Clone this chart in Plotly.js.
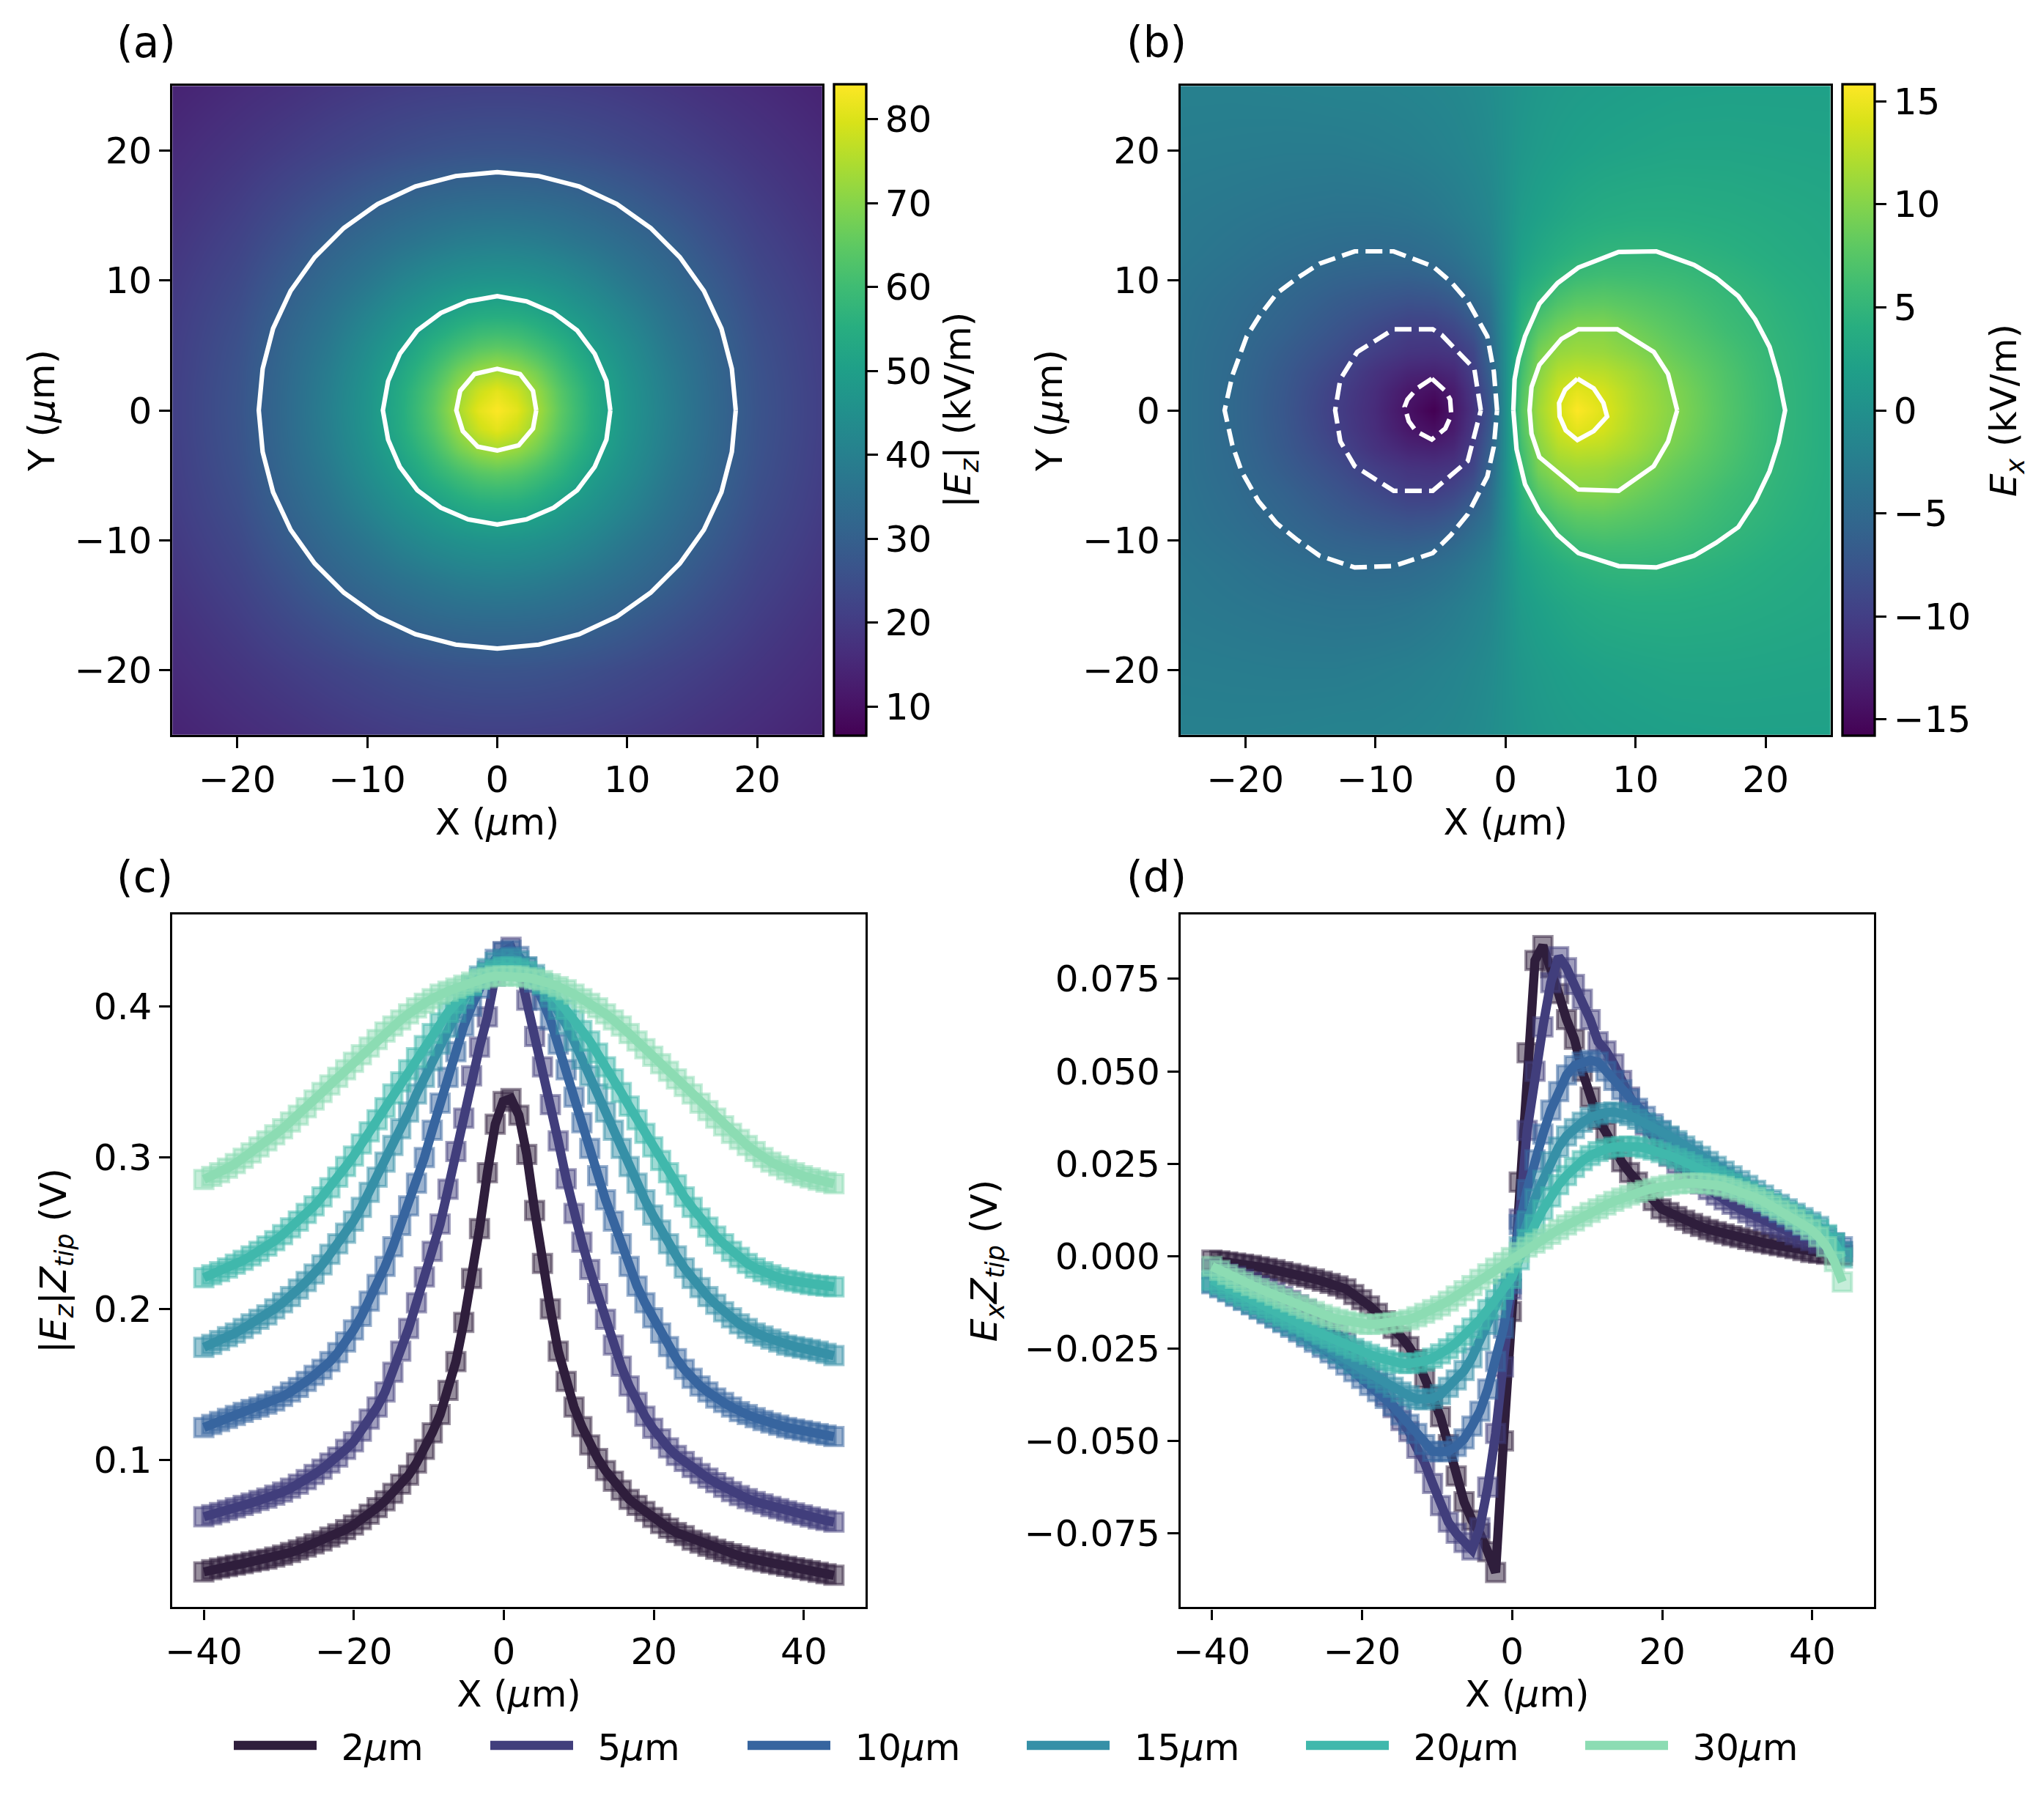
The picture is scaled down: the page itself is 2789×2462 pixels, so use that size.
<!DOCTYPE html>
<html>
<head>
<meta charset="utf-8">
<script src="https://cdn.plot.ly/plotly-3.0.1.min.js"></script>
<style>
html,body{margin:0;padding:0;background:#fff}
.legendlines path{stroke-width:12.5px !important}
</style>
</head>
<body>
<div id="myDiv"></div>
<script>
// panel (a), |Ez| map in kV/m on a coarse grid
var gridA = [-25,-20,-16,-13,-10,-7.5,-5,-3,-1.5,0,1.5,3,5,7.5,10,13,16,20,25];
var ezMap = [
  [14,15.8,17.2,18.4,19.4,20.1,20.6,20.8,21,21,21,20.8,20.6,20.1,19.4,18.4,17.2,15.8,14],
  [15.8,18.3,20.5,22.1,23.6,24.8,25.7,26.2,26.4,26.5,26.4,26.2,25.7,24.8,23.6,22.1,20.5,18.3,15.8],
  [17.2,20.5,23.9,26.5,29.2,31.2,32.7,33.4,33.7,33.8,33.7,33.4,32.7,31.2,29.2,26.5,23.9,20.5,17.2],
  [18.4,22.1,26.5,30.4,33.4,35.8,37.7,39,39.5,39.8,39.5,39,37.7,35.8,33.4,30.4,26.5,22.1,18.4],
  [19.4,23.6,29.2,33.4,37.3,40.9,43.9,45.5,46.3,46.5,46.3,45.5,43.9,40.9,37.3,33.4,29.2,23.6,19.4],
  [20.1,24.8,31.2,35.8,40.9,45.2,49,52.2,53.7,54,53.7,52.2,49,45.2,40.9,35.8,31.2,24.8,20.1],
  [20.6,25.7,32.7,37.7,43.9,49,55.8,60.2,63,64,63,60.2,55.8,49,43.9,37.7,32.7,25.7,20.6],
  [20.8,26.2,33.4,39,45.5,52.2,60.2,67.8,72,74,72,67.8,60.2,52.2,45.5,39,33.4,26.2,20.8],
  [21,26.4,33.7,39.5,46.3,53.7,63,72,78,81,78,72,63,53.7,46.3,39.5,33.7,26.4,21],
  [21,26.5,33.8,39.8,46.5,54,64,74,81,84,81,74,64,54,46.5,39.8,33.8,26.5,21],
  [21,26.4,33.7,39.5,46.3,53.7,63,72,78,81,78,72,63,53.7,46.3,39.5,33.7,26.4,21],
  [20.8,26.2,33.4,39,45.5,52.2,60.2,67.8,72,74,72,67.8,60.2,52.2,45.5,39,33.4,26.2,20.8],
  [20.6,25.7,32.7,37.7,43.9,49,55.8,60.2,63,64,63,60.2,55.8,49,43.9,37.7,32.7,25.7,20.6],
  [20.1,24.8,31.2,35.8,40.9,45.2,49,52.2,53.7,54,53.7,52.2,49,45.2,40.9,35.8,31.2,24.8,20.1],
  [19.4,23.6,29.2,33.4,37.3,40.9,43.9,45.5,46.3,46.5,46.3,45.5,43.9,40.9,37.3,33.4,29.2,23.6,19.4],
  [18.4,22.1,26.5,30.4,33.4,35.8,37.7,39,39.5,39.8,39.5,39,37.7,35.8,33.4,30.4,26.5,22.1,18.4],
  [17.2,20.5,23.9,26.5,29.2,31.2,32.7,33.4,33.7,33.8,33.7,33.4,32.7,31.2,29.2,26.5,23.9,20.5,17.2],
  [15.8,18.3,20.5,22.1,23.6,24.8,25.7,26.2,26.4,26.5,26.4,26.2,25.7,24.8,23.6,22.1,20.5,18.3,15.8],
  [14,15.8,17.2,18.4,19.4,20.1,20.6,20.8,21,21,21,20.8,20.6,20.1,19.4,18.4,17.2,15.8,14]
];

// panel (b), Ex map in kV/m
var gridBx = [-25,-21,-17,-13,-10,-7.5,-5.5,-4,-2.5,-1.2,0,1.2,2.5,4,5.5,7.5,10,13,17,21,25];
var gridBy = [-25,-20,-15,-12,-10.5,-8.5,-6.2,-4.5,-3,-1.5,0,1.5,3,4.5,6.2,8.5,10.5,12,15,20,25];
var exMap = [
  [-2.1,-2.1,-2,-1.8,-1.8,-1.6,-1.4,-1.2,-0.9,-0.5,0,0.5,0.9,1.2,1.4,1.6,1.8,2,2.1,2.1,2.1],
  [-2.5,-2.6,-2.7,-2.7,-2.5,-2.3,-2,-1.7,-1.3,-0.8,0,0.8,1.3,1.7,2,2.3,2.5,2.7,2.7,2.6,2.5],
  [-3,-3.3,-3.6,-3.8,-3.8,-3.6,-3.2,-2.7,-2.1,-1.4,0,1.4,2.1,2.7,3.2,3.6,3.8,3.8,3.6,3.3,3],
  [-3.2,-3.7,-4.3,-4.8,-5,-4.9,-4.5,-3.9,-3,-2,0,2,3,3.9,4.5,4.9,5,4.8,4.3,3.7,3.2],
  [-3.4,-4,-4.8,-5.6,-5.9,-6,-5.6,-4.9,-3.8,-2.5,0,2.5,3.8,4.9,5.6,6,5.9,5.6,4.8,4,3.4],
  [-3.6,-4.4,-5.4,-6.6,-7.3,-7.8,-7.6,-6.8,-5.2,-3.6,0,3.6,5.2,6.8,7.6,7.8,7.3,6.6,5.4,4.4,3.6],
  [-3.7,-4.7,-6,-7.6,-8.9,-10,-10,-9.2,-7.6,-4.6,0,4.6,7.6,9.2,10,10,8.9,7.6,6,4.7,3.7],
  [-3.8,-4.9,-6.6,-8.4,-10,-11,-11.2,-10.8,-9.2,-5.6,0,5.6,9.2,10.8,11.2,11,10,8.4,6.6,4.9,3.8],
  [-3.8,-5,-7,-9.2,-11.2,-12.5,-12.8,-12.2,-10,-6.2,0,6.2,10,12.2,12.8,12.5,11.2,9.2,7,5,3.8],
  [-3.8,-5.1,-7.2,-9.8,-11.8,-13.8,-14.6,-13.4,-10.8,-7,0,7,10.8,13.4,14.6,13.8,11.8,9.8,7.2,5.1,3.8],
  [-3.8,-5.1,-7.3,-10,-12,-14.3,-15.8,-13.8,-11.3,-7.5,0,7.5,11.3,13.8,15.8,14.3,12,10,7.3,5.1,3.8],
  [-3.8,-5.1,-7.2,-9.8,-11.8,-13.8,-14.6,-13.4,-10.8,-7,0,7,10.8,13.4,14.6,13.8,11.8,9.8,7.2,5.1,3.8],
  [-3.8,-5,-7,-9.2,-11.2,-12.5,-12.8,-12.2,-10,-6.2,0,6.2,10,12.2,12.8,12.5,11.2,9.2,7,5,3.8],
  [-3.8,-4.9,-6.6,-8.4,-10,-11,-11.2,-10.8,-9.2,-5.6,0,5.6,9.2,10.8,11.2,11,10,8.4,6.6,4.9,3.8],
  [-3.7,-4.7,-6,-7.6,-8.9,-10,-10,-9.2,-7.6,-4.6,0,4.6,7.6,9.2,10,10,8.9,7.6,6,4.7,3.7],
  [-3.6,-4.4,-5.4,-6.6,-7.3,-7.8,-7.6,-6.8,-5.2,-3.6,0,3.6,5.2,6.8,7.6,7.8,7.3,6.6,5.4,4.4,3.6],
  [-3.4,-4,-4.8,-5.6,-5.9,-6,-5.6,-4.9,-3.8,-2.5,0,2.5,3.8,4.9,5.6,6,5.9,5.6,4.8,4,3.4],
  [-3.2,-3.7,-4.3,-4.8,-5,-4.9,-4.5,-3.9,-3,-2,0,2,3,3.9,4.5,4.9,5,4.8,4.3,3.7,3.2],
  [-3,-3.3,-3.6,-3.8,-3.8,-3.6,-3.2,-2.7,-2.1,-1.4,0,1.4,2.1,2.7,3.2,3.6,3.8,3.8,3.6,3.3,3],
  [-2.5,-2.6,-2.7,-2.7,-2.5,-2.3,-2,-1.7,-1.3,-0.8,0,0.8,1.3,1.7,2,2.3,2.5,2.7,2.7,2.6,2.5],
  [-2.1,-2.1,-2,-1.8,-1.8,-1.6,-1.4,-1.2,-0.9,-0.5,0,0.5,0.9,1.2,1.4,1.6,1.8,2,2.1,2.1,2.1]
];

// contour polylines
var ezOuterX = [18.35,18.05,17.25,15.9,14.05,11.8,9.2,6.3,3.2,0,-3.2,-6.3,-9.2,-11.8,-14.05,-15.9,-17.25,-18.05,-18.35,-18.05,-17.25,-15.9,-14.05,-11.8,-9.2,-6.3,-3.2,0,3.2,6.3,9.2,11.8,14.05,15.9,17.25,18.05,18.35];
var ezOuterY = [0,3.2,6.3,9.2,11.8,14.05,15.9,17.25,18.05,18.35,18.05,17.25,15.9,14.05,11.8,9.2,6.3,3.2,0,-3.2,-6.3,-9.2,-11.8,-14.05,-15.9,-17.25,-18.05,-18.35,-18.05,-17.25,-15.9,-14.05,-11.8,-9.2,-6.3,-3.2,0];
var ezMidX = [8.7,8.4,7.5,6.15,4.35,2.25,0,-2.25,-4.35,-6.15,-7.5,-8.4,-8.8,-8.4,-7.5,-6.15,-4.35,-2.25,0,2.25,4.35,6.15,7.5,8.4,8.7];
var ezMidY = [0,2.25,4.35,6.15,7.5,8.4,8.8,8.4,7.5,6.15,4.35,2.25,0,-2.25,-4.35,-6.15,-7.5,-8.4,-8.8,-8.4,-7.5,-6.15,-4.35,-2.25,0];
var ezInX = [3,2.75,1.75,0,-1.75,-2.85,-3.15,-2.65,-1.5,0,1.65,2.75,3];
var ezInY = [0,1.5,2.8,3.2,2.8,1.5,0,-1.6,-2.8,-3.1,-2.7,-1.4,0];

var exPosOuterX = [0.6,0.7,1,1.5,2.6,4,5.6,8.7,11.6,14.5,16.2,17.9,19.2,20.3,21,21.5,21,20.3,19.2,17.9,16.2,14.5,11.6,8.7,5.6,4,2.6,1.5,0.85,0.6];
var exPosOuterY = [0,2.4,4,5.7,8.2,9.8,11,12.2,12.25,11.2,10.2,8.8,7,4.9,2.5,0,-2.5,-4.7,-7,-9,-10.2,-11.2,-12.1,-12,-11,-9.6,-7.8,-5.7,-3,0];
var exPosMidX = [13.2,12.5,11.4,8.6,5.6,4.3,2.6,2,1.85,2,2.6,5.6,8.7,11.4,12.5,13.2];
var exPosMidY = [0,2.8,4.5,6.25,6.25,5.5,3.5,1.8,0,-1.8,-3.6,-6.1,-6.2,-4.3,-2.4,0];
var exPosInX = [5.53,6.78,7.53,7.81,6.78,5.53,4.63,4.16,4.12,4.59,5.53];
var exPosInY = [2.44,1.69,0.56,-0.47,-1.6,-2.29,-1.54,-0.47,0.56,1.59,2.44];
var exNegOuterX = [-0.65,-0.9,-1.4,-2.9,-4.2,-5.6,-8.6,-11.6,-14.3,-16,-17.6,-18.9,-19.9,-21,-21.6,-21,-20.3,-19,-17.6,-16,-14.3,-11.6,-8.6,-5.6,-4.2,-2.9,-1.4,-0.9,-0.65];
var exNegOuterY = [0,3,5.7,8.4,9.9,11.1,12.25,12.25,11.3,10.2,9,7.3,5.7,2.7,0,-2.7,-4.7,-7,-8.7,-10,-11.2,-12.1,-12,-11,-9.6,-8,-5.1,-2.8,0];
var exNegMidX = [-1.9,-2.4,-4.9,-5.6,-8.6,-11.4,-12.7,-13.1,-12.7,-11.6,-8.6,-5.6,-2.9,-1.9];
var exNegMidY = [0,3.2,5.8,6.25,6.25,4.5,2.4,0,-2.4,-4.3,-6.2,-6.2,-3.9,0];
var exNegInX = [-5.67,-4.63,-4.26,-4.17,-4.63,-5.67,-6.88,-7.44,-7.76,-7.54,-6.8,-5.67];
var exNegInY = [2.44,1.5,0.84,-0.37,-1.4,-2.25,-1.6,-0.84,0.28,0.84,1.69,2.44];

// line scans, panels (c) and (d)
var scanX = [-40,-38.95,-37.9,-36.85,-35.8,-34.75,-33.7,-32.65,-31.6,-30.55,-29.5,-28.45,-27.4,-26.35,-25.3,-24.25,-23.2,-22.15,-21.1,-20.05,-19,-17.95,-16.9,-15.85,-14.8,-13.75,-12.7,-11.65,-10.6,-9.55,-8.5,-7.45,-6.4,-5.35,-4.3,-3.25,-2.2,-1.15,-0.1,0.95,2,3.05,4.1,5.15,6.2,7.25,8.3,9.35,10.4,11.45,12.5,13.55,14.6,15.65,16.7,17.75,18.8,19.85,20.9,21.95,23,24.05,25.1,26.15,27.2,28.25,29.3,30.35,31.4,32.45,33.5,34.55,35.6,36.65,37.7,38.75,39.8,40.85,41.9,42.95,44];

// leading spaces give the gap between legend line and text
var heights = ['\u00a0\u20052<i>μ</i>m','\u00a0\u20055<i>μ</i>m','\u00a0\u200510<i>μ</i>m','\u00a0\u200515<i>μ</i>m','\u00a0\u200520<i>μ</i>m','\u00a0\u200530<i>μ</i>m'];
var colors = [[47,30,60],[65,62,124],[55,101,159],[54,144,167],[64,184,172],[140,220,179]];

var ez2 = [.026,.0275,.0285,.0295,.0305,.0315,.0325,.0335,.0345,.0358,.0372,.0388,.0405,.0425,.0445,.0465,.049,.0512,.054,.057,.0605,.0642,.0685,.073,.078,.084,.09,.098,.107,.118,.13,.146,.165,.191,.22,.253,.29,.322,.337,.339,.328,.302,.265,.23,.2,.172,.152,.135,.122,.11,.101,.093,.086,.08,.074,.07,.066,.062,.058,.055,.052,.05,.047,.045,.043,.041,.0395,.038,.0365,.0352,.034,.0328,.0318,.0308,.0298,.0288,.0278,.0268,.0258,.0248,.0238];
var ez5 = [.0625,.0638,.0652,.0668,.0684,.07,.0716,.0732,.0748,.0768,.0788,.0813,.084,.087,.0905,.094,.098,.102,.107,.112,.119,.127,.135,.145,.158,.172,.187,.204,.221,.238,.256,.279,.304,.326,.354,.373,.393,.42,.436,.439,.426,.404,.38,.36,.335,.311,.286,.263,.244,.226,.21,.193,.176,.162,.149,.138,.129,.121,.114,.108,.103,.099,.095,.091,.088,.085,.082,.079,.0765,.0745,.0725,.071,.0693,.0678,.0663,.065,.0637,.0623,.061,.06,.059];
var ez10 = [.1215,.1235,.1255,.1275,.1295,.1315,.1335,.135,.137,.139,.142,.145,.148,.152,.156,.16,.165,.171,.178,.186,.195,.205,.216,.228,.241,.255,.268,.283,.3,.318,.336,.353,.37,.387,.4,.412,.423,.431,.436,.437,.433,.426,.416,.404,.391,.375,.358,.34,.323,.306,.288,.272,.258,.243,.228,.215,.204,.194,.184,.175,.167,.16,.154,.149,.145,.141,.138,.135,.132,.13,.128,.126,.1245,.123,.1215,.1205,.1195,.1185,.1175,.1165,.1155];
var ez15 = [.1745,.1765,.179,.1815,.184,.187,.19,.193,.196,.2,.204,.208,.213,.218,.223,.229,.236,.243,.25,.258,.267,.277,.287,.297,.308,.319,.33,.342,.353,.364,.375,.386,.396,.405,.413,.42,.425,.429,.431,.432,.43,.426,.421,.414,.406,.398,.388,.377,.365,.354,.342,.33,.318,.306,.294,.283,.272,.262,.252,.243,.235,.227,.22,.214,.208,.203,.198,.194,.19,.187,.184,.182,.18,.178,.176,.175,.174,.173,.172,.1705,.169];
var ez20 = [.2205,.2225,.2245,.227,.2295,.232,.235,.238,.2415,.245,.249,.2535,.258,.263,.268,.274,.28,.287,.294,.301,.309,.317,.325,.333,.342,.35,.358,.366,.374,.382,.389,.396,.402,.408,.414,.418,.422,.424,.426,.426,.425,.423,.419,.415,.41,.404,.398,.391,.384,.377,.369,.36,.352,.343,.334,.325,.316,.307,.298,.29,.282,.274,.267,.26,.254,.248,.243,.238,.234,.23,.227,.2245,.2225,.2205,.219,.218,.217,.216,.2155,.215,.2145];
var ez30 = [.2855,.2875,.29,.293,.296,.2995,.303,.307,.311,.315,.319,.3235,.328,.333,.338,.343,.348,.353,.358,.363,.368,.373,.378,.383,.387,.391,.395,.399,.402,.405,.408,.41,.412,.414,.416,.418,.419,.42,.42,.42,.42,.419,.418,.417,.415,.413,.411,.408,.405,.402,.399,.395,.391,.387,.382,.377,.372,.367,.362,.357,.352,.347,.342,.336,.331,.326,.321,.316,.312,.308,.304,.3,.297,.2945,.292,.29,.288,.2865,.285,.2838,.2827];

var ex2 = [-.0011,-.0013,-.0016,-.0019,-.0022,-.0025,-.0029,-.0033,-.0037,-.0042,-.0047,-.0052,-.0057,-.0062,-.0068,-.0074,-.0081,-.0089,-.0104,-.0118,-.0135,-.0155,-.0175,-.0196,-.0218,-.0245,-.028,-.033,-.038,-.0435,-.051,-.0595,-.0665,-.0715,-.075,-.08,-.0856,-.05,-.015,.02,.055,.08,.084,.078,.071,.064,.0587,.05,.043,.037,.0335,.029,.0255,.0226,.02,.0175,.015,.0128,.0118,.0107,.0097,.0088,.008,.0072,.0066,.006,.0055,.005,.0045,.004,.0036,.0032,.0028,.0024,.002,.0015,.001,.0008,.0005,.0003,.0002];
var ex5 = [-.0035,-.0041,-.0048,-.0055,-.0063,-.0071,-.008,-.0089,-.0099,-.0109,-.012,-.0132,-.0145,-.0159,-.0175,-.0192,-.021,-.0232,-.0258,-.0285,-.0315,-.0345,-.0378,-.041,-.0445,-.0475,-.052,-.056,-.0615,-.0675,-.072,-.075,-.0775,-.0795,-.0735,-.0625,-.048,-.03,-.009,.01,.034,.05,.062,.074,.081,.078,.0735,.0695,.064,.058,.0555,.052,.0475,.043,.039,.0355,.032,.029,.027,.025,.023,.0212,.0195,.018,.0165,.0152,.014,.0128,.0117,.0106,.0096,.0086,.0076,.0067,.0058,.005,.0042,.0034,.0027,.002,.0012];
var ex10 = [-.0075,-.0086,-.0097,-.0109,-.012,-.0132,-.0144,-.0156,-.0168,-.018,-.0193,-.0206,-.0219,-.0233,-.0247,-.0262,-.0278,-.0295,-.0313,-.0331,-.035,-.0367,-.0385,-.0405,-.043,-.0455,-.048,-.051,-.0528,-.053,-.0528,-.0515,-.0495,-.046,-.042,-.036,-.0285,-.0195,-.0075,.0085,.018,.026,.033,.0395,.0445,.049,.0515,.0525,.053,.0525,.05,.0475,.045,.0425,.04,.0378,.0358,.034,.0322,.0305,.0288,.0272,.0256,.0241,.0226,.0212,.0198,.0184,.017,.0157,.0144,.0131,.0118,.0106,.0094,.0082,.007,.0058,.0047,.0036,.0025];
var ex15 = [-.0072,-.0083,-.0095,-.0106,-.0118,-.013,-.0142,-.0153,-.0165,-.0177,-.0189,-.0201,-.0213,-.0225,-.0238,-.0251,-.0264,-.0277,-.0291,-.0305,-.0318,-.033,-.0343,-.0355,-.0368,-.0378,-.0387,-.0389,-.0385,-.0375,-.0355,-.0335,-.031,-.0275,-.0228,-.0185,-.014,-.009,-.004,.0025,.0095,.0155,.0205,.0255,.0295,.0325,.0345,.0362,.0375,.0383,.0388,.039,.0387,.038,.037,.036,.035,.0338,.0325,.0312,.0298,.0284,.027,.0256,.0243,.023,.0217,.0204,.0191,.0178,.0165,.0152,.014,.0128,.0116,.0104,.0092,.008,.0055,.0035,.0012];
var ex20 = [-.0065,-.0076,-.0087,-.0098,-.0109,-.012,-.0131,-.0141,-.0152,-.0162,-.0172,-.0182,-.0192,-.0202,-.0212,-.0222,-.0232,-.0241,-.025,-.0258,-.0266,-.0274,-.0281,-.0287,-.029,-.0291,-.0289,-.0284,-.0276,-.0265,-.0251,-.0235,-.0215,-.0195,-.0172,-.0145,-.0118,-.009,-.006,-.001,.0045,.0085,.0125,.016,.0193,.0218,.024,.0258,.0272,.0283,.029,.0295,.0297,.0298,.0296,.0292,.0287,.028,.0272,.0264,.0255,.0246,.0236,.0226,.0216,.0206,.0196,.0186,.0175,.0164,.0153,.0142,.0131,.012,.0109,.0097,.0085,.0072,.0058,.0035,-.0005];
var ex30 = [-.0028,-.0039,-.005,-.006,-.007,-.008,-.0088,-.0097,-.0106,-.0115,-.0124,-.0133,-.0142,-.015,-.0158,-.0165,-.0171,-.0176,-.018,-.0184,-.0185,-.0184,-.0182,-.018,-.0177,-.0172,-.0164,-.0155,-.0145,-.0135,-.0122,-.0108,-.0094,-.008,-.0063,-.0048,-.0033,-.0018,-.0004,.001,.0024,.0035,.0046,.0059,.0072,.0084,.0095,.0107,.0118,.0128,.0138,.0148,.0157,.0165,.0172,.0178,.0183,.0188,.0192,.0195,.0197,.0197,.0197,.0195,.0192,.0188,.0182,.0175,.0167,.0158,.0148,.0136,.0124,.0113,.0099,.0085,.0072,.0052,.0025,-.0015,-.007];

var ezScans = [ez2,ez5,ez10,ez15,ez20,ez30];
var exScans = [ex2,ex5,ex10,ex15,ex20,ex30];

var W = 2789, H = 2462;
function fx(px){ return px / W; }
function fy(px){ return 1 - px / H; }

var font = {family: 'DejaVu Sans', size: 50, color: '#000'};

function contourLine(xs, ys, ax, ay, dashed){
  return {
    x: xs, y: ys, xaxis: ax, yaxis: ay, type: 'scatter', mode: 'lines',
    line: {color: '#fff', width: 6.2, dash: dashed ? '23px,10px' : 'solid'},
    showlegend: false, hoverinfo: 'skip'
  };
}

function colorbar(left, ticks){
  return {
    x: fx(left), xanchor: 'left', xpad: 0, ypad: 0,
    y: fy(560), yanchor: 'middle',
    len: 889 / H, lenmode: 'fraction',
    thickness: 44, thicknessmode: 'pixels',
    outlinewidth: 3.3, outlinecolor: '#000', borderwidth: 0,
    ticks: 'outside', ticklen: 14.6, tickwidth: 3.3, tickcolor: '#000',
    tickmode: 'array', tickvals: ticks, ticktext: ticks.map(function(t){ return String(t).replace('-', '\u2212'); }),
    tickfont: font
  };
}

var data = [
  {type: 'heatmap', x: gridA, y: gridA, z: ezMap, xaxis: 'x', yaxis: 'y',
   zsmooth: 'best', colorscale: 'Viridis', zmin: 6.5, zmax: 84.1, hoverinfo: 'skip',
   colorbar: colorbar(1138, [10,20,30,40,50,60,70,80])},
  {type: 'heatmap', x: gridBx, y: gridBy, z: exMap, xaxis: 'x2', yaxis: 'y2',
   zsmooth: 'best', colorscale: 'Viridis', zmin: -15.8, zmax: 15.8, hoverinfo: 'skip',
   colorbar: colorbar(2514, [-15,-10,-5,0,5,10,15])},
  contourLine(ezOuterX, ezOuterY, 'x', 'y', false),
  contourLine(ezMidX, ezMidY, 'x', 'y', false),
  contourLine(ezInX, ezInY, 'x', 'y', false),
  contourLine(exPosOuterX, exPosOuterY, 'x2', 'y2', false),
  contourLine(exPosMidX, exPosMidY, 'x2', 'y2', false),
  contourLine(exPosInX, exPosInY, 'x2', 'y2', false),
  contourLine(exNegOuterX, exNegOuterY, 'x2', 'y2', true),
  contourLine(exNegMidX, exNegMidY, 'x2', 'y2', true),
  contourLine(exNegInX, exNegInY, 'x2', 'y2', true)
];

function addScans(scans, ax, ay, withLegend){
  scans.forEach(function(vals, k){
    var c = 'rgb(' + colors[k].join(',') + ')';
    var ca = 'rgba(' + colors[k].join(',') + ',0.5)';
    data.push({
      x: scanX, y: vals, xaxis: ax, yaxis: ay, type: 'scatter', mode: 'markers',
      marker: {symbol: 'square', size: 25, color: ca, line: {color: ca, width: 4}},
      showlegend: false, hoverinfo: 'skip'
    });
    data.push({
      x: scanX, y: vals, xaxis: ax, yaxis: ay, type: 'scatter', mode: 'lines',
      line: {color: c, width: 12.5},
      name: heights[k], showlegend: withLegend, legend: k < 2 ? 'legend' : 'legend2',
      hoverinfo: 'skip'
    });
  });
}
addScans(ezScans, 'x3', 'y3', true);
addScans(exScans, 'x4', 'y4', false);

// axis lines sit just outside the domain, so the spine centres are inset by half a line width
function axis(left, right, range, dtick, anchor, title, standoff, fmt){
  return {
    domain: [fx(left + 1.65), fx(right - 1.65)], range: range, dtick: dtick, tick0: 0, anchor: anchor,
    showgrid: false, zeroline: false, showline: true, mirror: true,
    linecolor: '#000', linewidth: 3.3,
    ticks: 'outside', ticklen: 14.6, tickwidth: 3.3, tickcolor: '#000',
    tickfont: font, tickformat: fmt || '',
    title: {text: title, font: font, standoff: standoff}
  };
}
function yaxis(top, bottom, range, dtick, anchor, title, standoff, fmt){
  var a = axis(0, 1, range, dtick, anchor, title, standoff, fmt);
  a.domain = [fy(bottom - 1.65), fy(top + 1.65)];
  return a;
}

var xTitle = 'X (<i>μ</i>m)', yTitle = 'Y (<i>μ</i>m)';
var annStyle = {xref: 'paper', yref: 'paper', showarrow: false, font: font};
function label(text, px, py){
  return Object.assign({}, annStyle, {text: text, x: fx(px), y: fy(py), xanchor: 'left', yanchor: 'middle',
    font: {family: 'DejaVu Sans', size: 58, color: '#000'}});
}
function sideTitle(text, px, py){
  return Object.assign({}, annStyle, {text: text, x: fx(px), y: fy(py), xanchor: 'center', yanchor: 'middle', textangle: -90});
}

var lay = {
  width: W, height: H,
  margin: {l: 0, r: 0, t: 0, b: 0, pad: 0, autoexpand: false},
  paper_bgcolor: '#fff', plot_bgcolor: '#fff',
  font: font,
  hovermode: false,
  xaxis: axis(233.5, 1123.5, [-25,25], 10, 'y', xTitle, 10),
  yaxis: yaxis(115.5, 1004.5, [-25,25], 10, 'x', yTitle, 12),
  xaxis2: axis(1609, 2499.5, [-25,25], 10, 'y2', xTitle, 10),
  yaxis2: yaxis(115.5, 1004.5, [-25,25], 10, 'x2', yTitle, 12),
  xaxis3: axis(233.5, 1182.5, [-44.2,48.2], 20, 'y3', xTitle, 10),
  yaxis3: yaxis(1246, 2195, [0.0027,0.4609], 0.1, 'x3', '|<i>E<sub>z</sub></i>|<i>Z<sub>tip</sub></i> (V)', 22, '.1f'),
  xaxis4: axis(1609, 2558.5, [-44.2,48.2], 20, 'y4', xTitle, 10),
  yaxis4: yaxis(1246, 2195, [-0.095,0.0925], 0.025, 'x4', '<i>E<sub>x</sub>Z<sub>tip</sub></i> (V)', 22, '.3f'),
  legend: {orientation: 'h', x: fx(314), xanchor: 'left', y: fy(2382), yanchor: 'middle',
    font: font, itemwidth: 113, entrywidth: 222, entrywidthmode: 'pixels', bgcolor: 'rgba(0,0,0,0)'},
  legend2: {orientation: 'h', x: fx(1015), xanchor: 'left', y: fy(2382), yanchor: 'middle',
    font: font, itemwidth: 113, entrywidth: 253, entrywidthmode: 'pixels', bgcolor: 'rgba(0,0,0,0)'},
  annotations: [
    label('(a)', 157, 58), label('(b)', 1535, 58),
    label('(c)', 157, 1197), label('(d)', 1535, 1197),
    sideTitle('|<i>E<sub>z</sub></i>| (kV/m)', 1311, 560),
    sideTitle('<i>E<sub>x</sub></i> (kV/m)', 2738, 560)
  ]
};

Plotly.newPlot('myDiv', data, lay, {displayModeBar: false, responsive: false});
</script>
</body>
</html>
